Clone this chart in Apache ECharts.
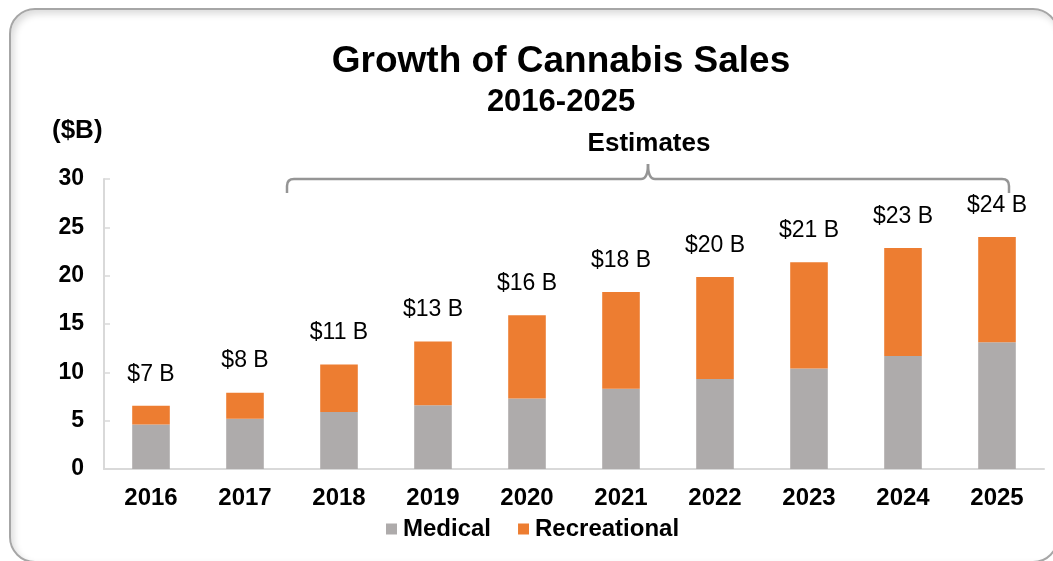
<!DOCTYPE html>
<html>
<head>
<meta charset="utf-8">
<script src="https://cdn.jsdelivr.net/npm/echarts@6/dist/echarts.min.js"></script>
<style>
  html, body { margin: 0; padding: 0; background: #ffffff; }
  #frame {
    position: absolute; left: 9px; top: 8px; width: 1050px; height: 555px;
    border: 2px solid #a6a6a6; border-radius: 26px;
    box-shadow: inset 3px 4px 7px rgba(0,0,0,0.14);
    box-sizing: border-box;
  }
  #chart { position: absolute; left: 0; top: 0; width: 1053px; height: 561px; }
</style>
</head>
<body>
<div id="frame"></div>
<div id="chart"></div>
<script>
// Cannabis sales by year, $ billions
const years = ['2016', '2017', '2018', '2019', '2020', '2021', '2022', '2023', '2024', '2025'];
const medical = [4.6, 5.2, 5.9, 6.6, 7.3, 8.3, 9.3, 10.4, 11.7, 13.1];
const recreational = [1.95, 2.7, 4.9, 6.6, 8.6, 10.0, 10.55, 11.0, 11.15, 10.9];
const yTicks = [0, 5, 10, 15, 20, 25, 30];

const FONT = '"Liberation Sans", Arial, sans-serif';
const chart = echarts.init(document.getElementById('chart'));

function totalLabel(p) {
  const t = medical[p.dataIndex] + recreational[p.dataIndex];
  return '$' + Math.round(t) + ' B';
}

// bracket over the estimate years: straight runs plus curved corners
const bracketStyle = { stroke: '#959595', lineWidth: 2.5, fill: 'none' };
function seg(x1, y1, x2, y2) {
  return { type: 'line', shape: { x1, y1, x2, y2 }, style: bracketStyle, silent: true };
}
function curve(x1, y1, cx, cy, x2, y2) {
  return { type: 'bezierCurve', shape: { x1, y1, x2, y2, cpx1: cx, cpy1: cy }, style: bracketStyle, silent: true };
}
const bracket = [
  seg(287, 193, 287, 186),
  curve(287, 186, 287, 179, 294, 179),
  seg(294, 179, 641, 179),
  curve(641, 179, 648, 179, 648, 164),
  curve(648, 164, 648, 179, 655, 179),
  seg(655, 179, 1002, 179),
  curve(1002, 179, 1009, 179, 1009, 186),
  seg(1009, 186, 1009, 193)
];

chart.setOption({
  backgroundColor: 'transparent',
  animation: false,
  grid: { left: 104, right: 9, top: 179, bottom: 92, containLabel: false },
  xAxis: {
    type: 'category',
    data: years,
    axisLine: { show: true, lineStyle: { color: '#d9d9d9', width: 2 } },
    axisTick: { show: false },
    axisLabel: { color: '#000', fontFamily: FONT, fontWeight: 'bold', fontSize: 24, margin: 17 }
  },
  yAxis: {
    type: 'value',
    min: yTicks[0],
    max: yTicks[yTicks.length - 1],
    interval: yTicks[1] - yTicks[0],
    axisLine: { show: true, lineStyle: { color: '#d9d9d9', width: 2 } },
    axisTick: { show: true, inside: true, length: 6, lineStyle: { color: '#d9d9d9', width: 1.5 } },
    splitLine: { show: false },
    axisLabel: { color: '#000', fontFamily: FONT, fontWeight: 'bold', fontSize: 23, margin: 20 }
  },
  legend: {
    left: 386, top: 517, padding: 0,
    itemWidth: 11, itemHeight: 11, itemGap: 27,
    icon: 'rect',
    textStyle: { color: '#000', fontFamily: FONT, fontWeight: 'bold', fontSize: 24, padding: [0, 0, 0, 1] },
    data: ['Medical', 'Recreational']
  },
  series: [
    {
      name: 'Medical', type: 'bar', stack: 'sales', barWidth: '40%',
      itemStyle: { color: '#AEABAB' },
      data: medical
    },
    {
      name: 'Recreational', type: 'bar', stack: 'sales', barWidth: '40%',
      itemStyle: { color: '#ED7D31' },
      label: {
        show: true, position: 'top', distance: 20,
        formatter: totalLabel,
        color: '#000', fontFamily: FONT, fontSize: 23
      },
      data: recreational
    }
  ],
  graphic: [
    {
      type: 'text', x: 561, y: 62,
      style: { text: 'Growth of Cannabis Sales', font: 'bold 37px ' + FONT, fill: '#000',
               textAlign: 'center', textVerticalAlign: 'middle' }
    },
    {
      type: 'text', x: 561, y: 102,
      style: { text: '2016-2025', font: 'bold 31px ' + FONT, fill: '#000',
               textAlign: 'center', textVerticalAlign: 'middle' }
    },
    {
      type: 'text', x: 52, y: 131,
      style: { text: '($B)', font: 'bold 26px ' + FONT, fill: '#000',
               textAlign: 'left', textVerticalAlign: 'middle' }
    },
    {
      type: 'text', x: 649, y: 144,
      style: { text: 'Estimates', font: 'bold 26px ' + FONT, fill: '#000',
               textAlign: 'center', textVerticalAlign: 'middle' }
    }
  ].concat(bracket)
});
</script>
</body>
</html>
